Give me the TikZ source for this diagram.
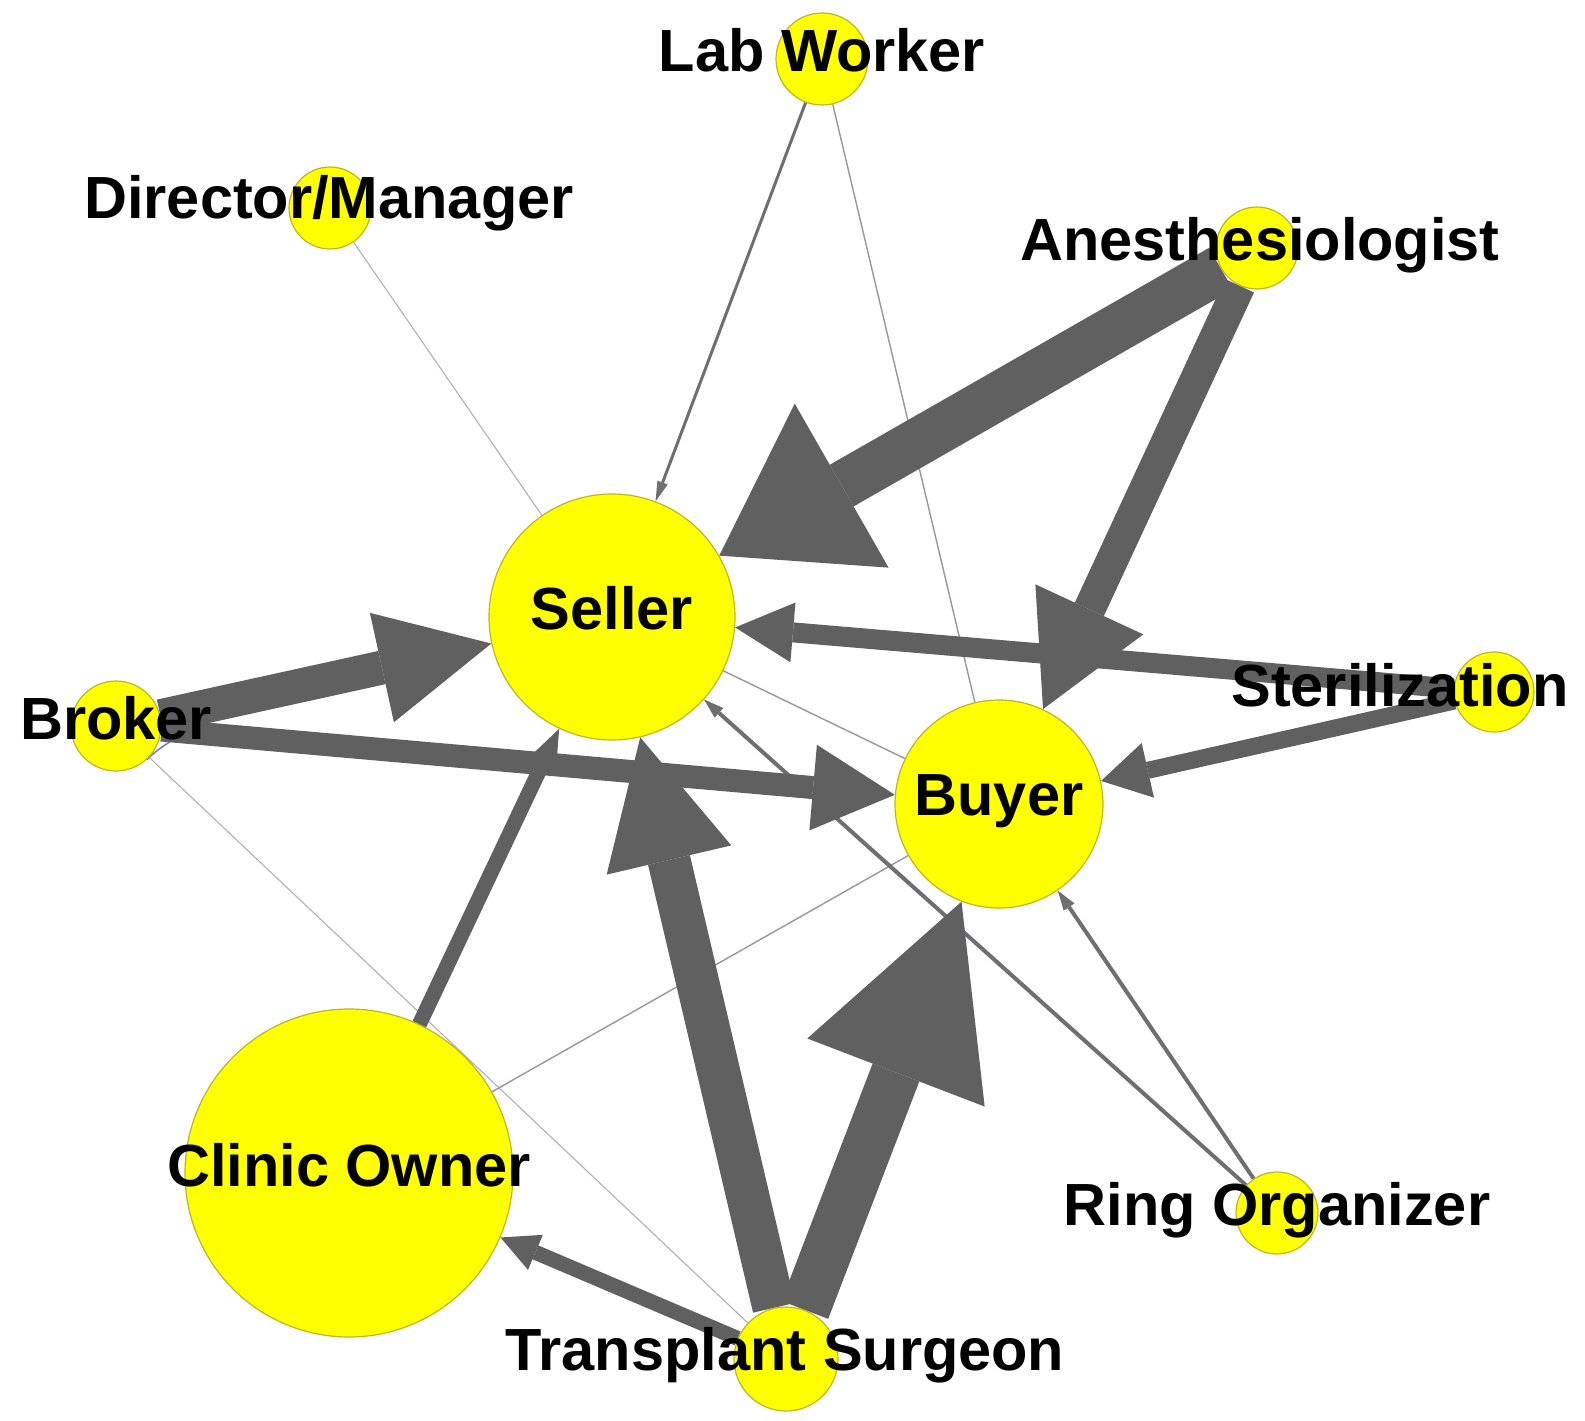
\documentclass[tikz,border=0pt]{standalone}
\usepackage{fontspec}
\setmainfont{Liberation Sans}
\usetikzlibrary{arrows.meta}
\pgfdeclarelayer{edgelayer}
\pgfsetlayers{edgelayer,main}
\definecolor{nodeyellow}{RGB}{255,255,0}
\definecolor{nodeedge}{RGB}{190,180,40}
\definecolor{edgegray}{RGB}{96,96,96}
\definecolor{midgray}{RGB}{110,110,115}
\definecolor{faintgray}{RGB}{150,150,160}
\definecolor{palegray}{RGB}{175,175,185}
\definecolor{loopblue}{RGB}{120,120,190}
\newcommand\lblfont{\bfseries\fontsize{59.5}{62}\selectfont}
\tikzset{
  actor/.style={circle, fill=nodeyellow, draw=nodeedge, line width=1.2pt, inner sep=0pt, minimum size=#1},
  lbl/.style={font=\lblfont, text=black, inner sep=0pt, anchor=base},
  flow/.style={draw=edgegray, line cap=butt},
  faint/.style={draw=faintgray, line width=1.4pt},
  pale/.style={draw=palegray, line width=1.1pt},
}
\newcommand\tip[2]{-{Triangle[length=#1pt,width=#2pt,line width=0pt]}}
\begin{document}
\begin{tikzpicture}[x=1pt,y=-1pt]
\useasboundingbox (0,0) rectangle (1585,1421);
% nodes
\node[actor=92pt]  (lab)     at (822,59)   {};
\node[actor=82pt]  (dir)     at (330,208)  {};
\node[actor=82pt]  (anes)    at (1257,248) {};
\node[actor=246pt] (seller)  at (612,617)  {};
\node[actor=90pt]  (broker)  at (116,726)  {};
\node[actor=80pt]  (steril)  at (1494,692) {};
\node[actor=208pt] (buyer)   at (999,804)  {};
\node[actor=328pt] (clinic)  at (349,1173) {};
\node[actor=82pt]  (ring)    at (1277,1213){};
\node[actor=104pt] (surgeon) at (786,1359) {};
% edges
\begin{pgfonlayer}{edgelayer}
\draw[pale] (dir) -- (seller);
\draw[pale] (broker) -- (surgeon);
\draw[faint] (lab) -- (buyer);
\draw[faint] (seller) -- (buyer);
\draw[faint] (clinic) -- (buyer);
\draw[loopblue, line width=1.5pt] (broker.-5) .. controls +(34,4) and +(22,-22) .. (broker.-48);
\draw[flow, draw=midgray, line width=3pt, \tip{20}{11}] (lab) -- (seller);
\draw[flow, draw=midgray, line width=4pt, \tip{20}{13}] (ring) -- (seller);
\draw[flow, draw=midgray, line width=4pt, \tip{20}{13}] (ring) -- (buyer);
\draw[flow, line width=15pt, \tip{34}{26}] (clinic) -- (seller);
\draw[flow, line width=15pt, \tip{38}{38}] (surgeon) -- (clinic);
\draw[flow, line width=23pt, \tip{82}{86}] (broker) -- (buyer);
\draw[flow, line width=34pt, \tip{112}{112}] (broker) -- (seller);
\draw[flow, line width=20pt, \tip{58}{60}] (steril) -- (seller);
\draw[flow, line width=17pt, \tip{48}{56}] (steril) -- (buyer);
\draw[flow, line width=32pt, \tip{110}{119}] (anes) -- (buyer);
\draw[flow, line width=48pt, \tip{141}{189}] (anes) -- (seller);
\draw[flow, line width=43pt, \tip{126}{128}] (surgeon) -- (seller);
\draw[flow, line width=50pt, \tip{183}{190}] (surgeon) -- (buyer);
\end{pgfonlayer}
% labels
\node[lbl] (llab)     at (822,71)   {Lab Worker};
\node[lbl] (ldir)     at (329,218)  {Director/Manager};
\node[lbl] (lanes)    at (1260,260) {Anesthesiologist};
\node[lbl] (lseller)  at (612,629)  {Seller};
\node[lbl] (lbroker)  at (116,739)  {Broker};
\node[lbl] (lsteril)  at (1400,706) {Sterilization};
\node[lbl] (lbuyer)   at (999,815)  {Buyer};
\node[lbl] (lclinic)  at (349,1186) {Clinic Owner};
\node[lbl] (lring)    at (1277,1225){Ring Organizer};
\node[lbl] (lsurgeon) at (785,1370) {Transplant Surgeon};
\end{tikzpicture}
\end{document}
